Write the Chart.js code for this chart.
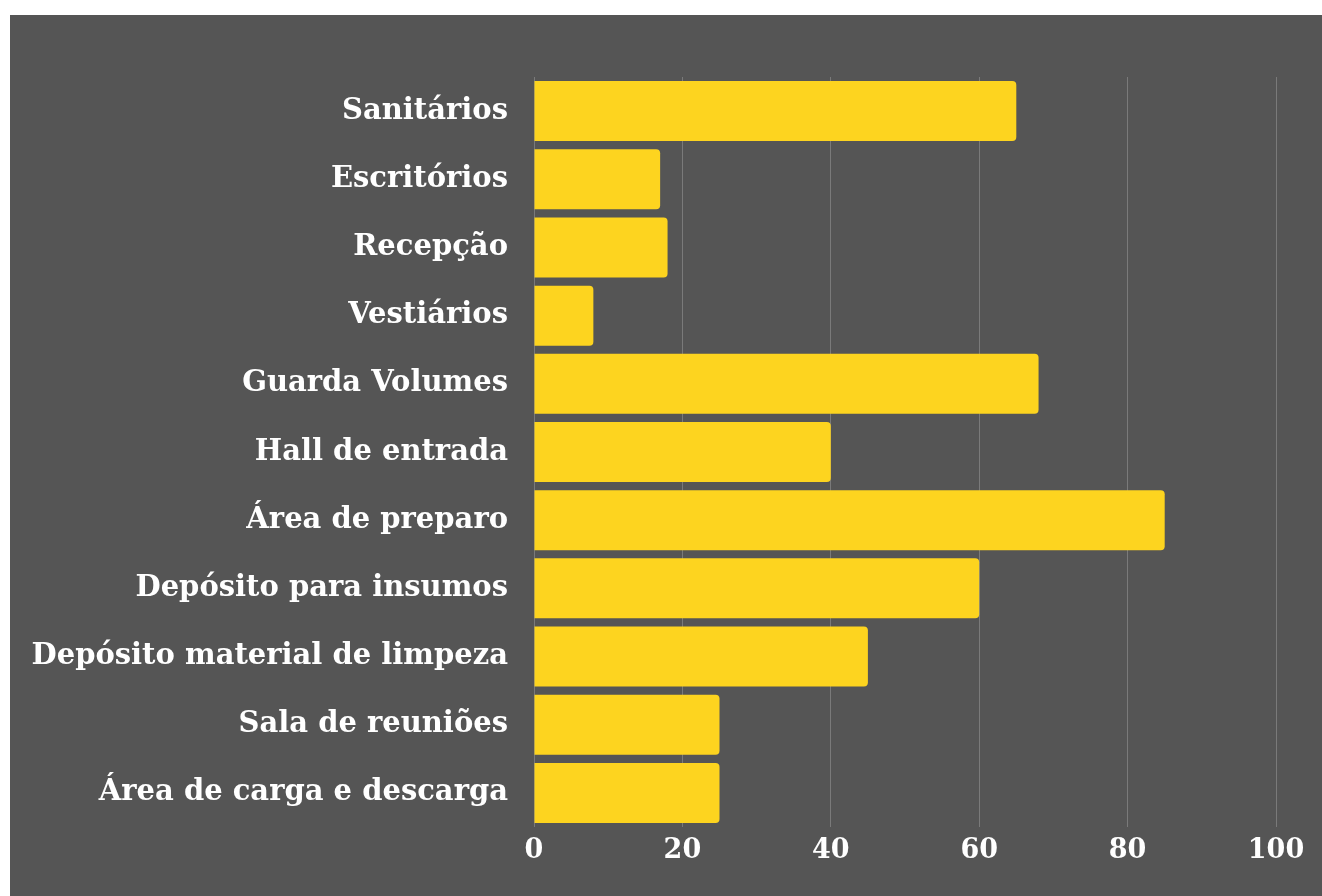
<!DOCTYPE html>
<html>
<head>
<meta charset="utf-8">
<script src="https://cdn.jsdelivr.net/npm/chart.js@4/dist/chart.umd.min.js"></script>
<style>
  html, body { margin: 0; padding: 0; background: #ffffff; }
  #panel {
    position: absolute; left: 10px; top: 15px;
    width: 1312px; height: 881px; background: #555555;
  }
</style>
</head>
<body>
<div id="panel"><canvas id="myChart"></canvas></div>
<script>
// data
var categories = [
    'Sanitários', 'Escritórios', 'Recepção', 'Vestiários', 'Guarda Volumes',
    'Hall de entrada', 'Área de preparo', 'Depósito para insumos',
    'Depósito material de limpeza', 'Sala de reuniões', 'Área de carga e descarga'
];
var values = [65, 17, 18, 8, 68, 40, 85, 60, 45, 25, 25];
var xTicks = [0, 20, 40, 60, 80, 100];

var labelFont = { family: 'DejaVu Serif', size: 29, weight: 'bold' };
var tickFont = { family: 'DejaVu Serif', size: 27, weight: 'bold' };

var ctx = document.getElementById('myChart').getContext('2d');
var myChart = new Chart(ctx, {
    type: 'bar',
    data: {
        labels: categories,
        datasets: [{
            data: values,
            backgroundColor: '#FDD41F',
            borderRadius: 4,
            borderSkipped: 'start',
            barPercentage: 0.88,
            categoryPercentage: 1
        }]
    },
    options: {
        indexAxis: 'y',
        responsive: true,
        maintainAspectRatio: false,
        animation: false,
        layout: { padding: { top: 62, right: 46, bottom: 0, left: 0 } },
        plugins: { legend: { display: false }, tooltip: { enabled: false } },
        scales: {
            x: {
                min: 0,
                max: 100,
                afterBuildTicks: function (scale) {
                    scale.ticks = xTicks.map(function (v) { return { value: v }; });
                },
                afterFit: function (scale) { scale.height = 69; },
                grid: { color: '#7a7a7a', lineWidth: 1, drawTicks: false },
                border: { display: false },
                ticks: { color: '#ffffff', font: tickFont, padding: 8 }
            },
            y: {
                afterFit: function (scale) { scale.width = 524; },
                grid: { display: false, drawTicks: false },
                border: { display: false },
                ticks: { color: '#ffffff', font: labelFont, padding: 26 }
            }
        }
    }
});
</script>
</body>
</html>
